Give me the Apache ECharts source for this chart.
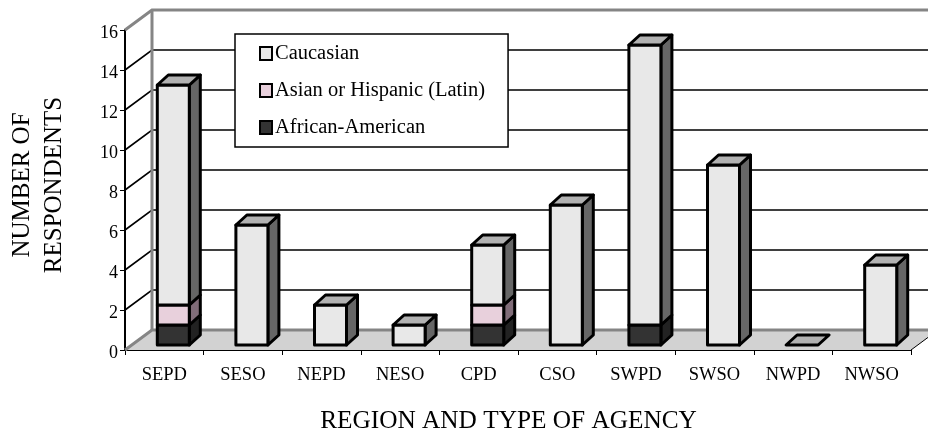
<!DOCTYPE html>
<html>
<head>
<meta charset="utf-8">
<style>html,body{margin:0;padding:0;background:#fff}#chart{width:928px;height:433px}</style>
<script src="https://cdn.jsdelivr.net/npm/echarts@6/dist/echarts.min.js"></script>
</head>
<body>
<div id="chart"></div>
<script>
const agencies = ['SEPD','SESO','NEPD','NESO','CPD','CSO','SWPD','SWSO','NWPD','NWSO'];
const africanAmerican = [1,0,0,0,1,0,1,0,0,0];
const asianOrHispanic = [1,0,0,0,1,0,0,0,0,0];
const caucasian = [11,6,2,1,3,7,14,9,0,4];
const yTicks = [0,2,4,6,8,10,12,14,16];

// Oblique projection constants for the pseudo-3D box and columns
const WALL_DX = 27, WALL_DY = -20;
const BAR_DX = 9, BAR_DY = -5, BAR_W = 32, DEPTH_DX = 11, DEPTH_DY = -10;
const FONT = '"Liberation Serif","Times New Roman",serif';

const shape = (type, s, style, z2) => ({type, shape: s, style, z2, silent: true});

// Floor, back wall and gridlines, one item per y tick
function renderWall(params, api) {
  const v = api.value(0);
  const [x0, y] = api.coord([0, v]);
  const band = api.size([1, 0])[0];
  const left = x0 - band / 2;
  const right = left + band * agencies.length;
  const kids = [];
  if (v === 0) {
    kids.push(shape('polygon', {points: [[left, y], [right, y], [right + WALL_DX, y + WALL_DY], [left + WALL_DX, y + WALL_DY]]},
      {fill: '#d2d2d2', stroke: 'none'}, 1));
    kids.push(shape('polyline', {points: [[left, y], [left + WALL_DX, y + WALL_DY], [right + WALL_DX, y + WALL_DY]]},
      {fill: 'none', stroke: '#858585', lineWidth: 3}, 3));
    kids.push(shape('line', {x1: right, y1: y, x2: right + WALL_DX, y2: y + WALL_DY},
      {stroke: '#000', lineWidth: 1}, 3));
  } else if (v === 16) {
    kids.push(shape('polyline', {points: [[left, y], [left + WALL_DX, y + WALL_DY], [right + WALL_DX, y + WALL_DY]]},
      {fill: 'none', stroke: '#858585', lineWidth: 3}, 3));
    const [, y0] = api.coord([0, 0]);
    kids.push(shape('line', {x1: left + WALL_DX, y1: y + WALL_DY, x2: left + WALL_DX, y2: y0 + WALL_DY},
      {stroke: '#858585', lineWidth: 3}, 3));
  } else {
    kids.push(shape('polyline', {points: [[left, y], [left + WALL_DX, y + WALL_DY], [right + WALL_DX, y + WALL_DY]]},
      {fill: 'none', stroke: '#000', lineWidth: 1.6}, 2));
  }
  return {type: 'group', children: kids};
}

// One column segment: front face, side face and cap
function barRenderer(front, side, drawTop) {
  return function (params, api) {
    const cat = api.value(0), from = api.value(1), to = api.value(2);
    const [cx, yBase] = api.coord([cat, from]);
    const [, yTop] = api.coord([cat, to]);
    const x1 = cx + BAR_DX - BAR_W / 2, x2 = x1 + BAR_W;
    const yb = yBase + BAR_DY, yt = yTop + BAR_DY;
    const line = {stroke: '#000', lineWidth: 3, lineJoin: 'round'};
    const kids = [];
    if (to > from) {
      kids.push(shape('polygon', {points: [[x2, yb], [x2 + DEPTH_DX, yb + DEPTH_DY], [x2 + DEPTH_DX, yt + DEPTH_DY], [x2, yt]]},
        {fill: side, ...line}, 10));
      kids.push(shape('rect', {x: x1, y: yt, width: BAR_W, height: yb - yt}, {fill: front, ...line}, 11));
    }
    if (drawTop(cat)) {
      kids.push(shape('polygon', {points: [[x1, yt], [x2, yt], [x2 + DEPTH_DX, yt + DEPTH_DY], [x1 + DEPTH_DX, yt + DEPTH_DY]]},
        {fill: '#b2b2b2', ...line}, 12));
    }
    return {type: 'group', children: kids};
  };
}

const barSeries = (name, data, color, front, side, drawTop, z) => ({
  name, type: 'custom', z,
  renderItem: barRenderer(front, side, drawTop),
  itemStyle: {color, borderColor: '#000', borderWidth: 2.5},
  encode: {x: 0, y: [1, 2]},
  data
});

const africanRows = agencies.map((_, i) => [i, 0, africanAmerican[i]]);
const asianRows = agencies.map((_, i) => [i, africanAmerican[i], africanAmerican[i] + asianOrHispanic[i]]);
const caucasianRows = agencies.map((_, i) => {
  const base = africanAmerican[i] + asianOrHispanic[i];
  return [i, base, base + caucasian[i]];
});

const chart = echarts.init(document.getElementById('chart'), null, {renderer: 'canvas'});
chart.setOption({
  animation: false,
  backgroundColor: '#fff',
  textStyle: {fontFamily: FONT},
  grid: {left: 125, right: 17, top: 30, bottom: 83, outerBoundsMode: 'none'},
  legend: {
    data: ['Caucasian', 'Asian or Hispanic (Latin)', 'African-American'],
    orient: 'vertical', left: 235, top: 34,
    padding: [9, 23, 9, 24],
    icon: 'rect',
    itemWidth: 12, itemHeight: 13, itemGap: 16,
    backgroundColor: '#fff', borderColor: '#000', borderWidth: 1.5,
    textStyle: {fontFamily: FONT, fontSize: 20.5, color: '#000', padding: [4, 0, 0, -2]},
    selectedMode: false, z: 20
  },
  xAxis: {
    type: 'category', data: agencies,
    name: 'REGION AND TYPE OF AGENCY', nameLocation: 'middle', nameGap: 59,
    nameTextStyle: {fontFamily: FONT, fontSize: 25.3, color: '#000', padding: [0, 19, 0, 0]},
    axisLine: {lineStyle: {color: '#000', width: 2}},
    axisTick: {show: true, alignWithLabel: false, length: 5, lineStyle: {color: '#000'}},
    axisLabel: {fontFamily: FONT, fontSize: 18.5, color: '#000', margin: 16, interval: 0},
    splitLine: {show: false}
  },
  yAxis: {
    type: 'value', min: 0, max: 16, interval: 2,
    name: 'NUMBER OF\nRESPONDENTS', nameLocation: 'middle', nameRotate: 90, nameGap: 55,
    nameTextStyle: {fontFamily: FONT, fontSize: 25, color: '#000', lineHeight: 32, padding: [0, 0, 0, 10]},
    axisLine: {show: true, lineStyle: {color: '#000', width: 2}},
    axisTick: {show: true, length: 5, lineStyle: {color: '#000'}},
    axisLabel: {
      color: '#000', margin: 7,
      formatter: '{v|{value}}',
      rich: {v: {fontFamily: FONT, fontSize: 18, color: '#000', padding: [7, 0, 0, 0]}}
    },
    splitLine: {show: false}
  },
  series: [
    {type: 'custom', name: 'box', z: 1, renderItem: renderWall, encode: {y: 0}, data: yTicks.map(v => [v])},
    barSeries('African-American', africanRows, '#333333', '#333333', '#222222', () => false, 5),
    barSeries('Asian or Hispanic (Latin)', asianRows, '#e8d0dc', '#e8d0dc', '#806c78', () => false, 6),
    barSeries('Caucasian', caucasianRows, '#e8e8e8', '#e8e8e8', '#666666', () => true, 7)
  ]
});
</script>
</body>
</html>
